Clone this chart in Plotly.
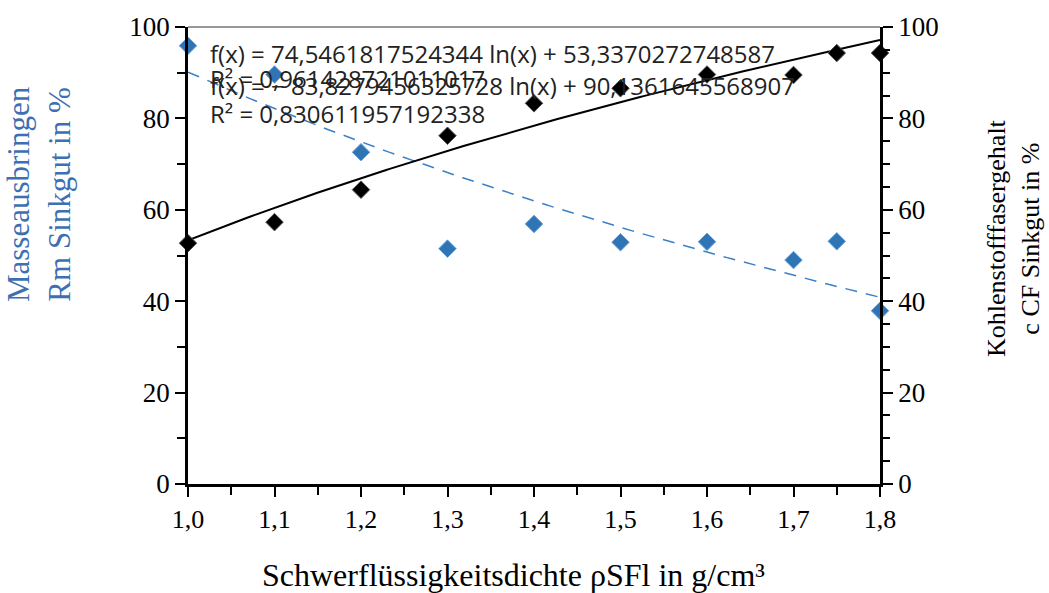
import numpy as np
import plotly.graph_objects as go

# Heavy-liquid density (g/cm³)
dichte = [1.0, 1.1, 1.2, 1.3, 1.4, 1.5, 1.6, 1.7, 1.75, 1.8]
# Mass yield of sink fraction (%)
rm_sinkgut = [95.9, 89.6, 72.6, 51.5, 56.9, 52.9, 53.0, 49.0, 53.1, 37.9]
# Carbon fibre content of sink fraction (%)
cf_sinkgut = [52.7, 57.3, 64.4, 76.2, 83.3, 86.6, 89.6, 89.5, 94.3, 94.3]

# Logarithmic trend fits f(x) = a ln(x) + b
cf_a, cf_b, cf_r2 = 74.5461817524344, 53.3370272748587, 0.961428721011017
rm_a, rm_b, rm_r2 = -83.8279456325728, 90.1361645568907, 0.830611957192338

blue = "#2F74B5"
serif = "Liberation Serif, Times New Roman, serif"

x_fit = np.linspace(min(dichte), max(dichte), 200)

fig = go.Figure()

fig.add_trace(go.Scatter(
    x=x_fit, y=rm_a * np.log(x_fit) + rm_b, mode="lines",
    line=dict(color="#3B80C6", width=1.5, dash="12px,9px"),
    yaxis="y", hoverinfo="skip", showlegend=False))
fig.add_trace(go.Scatter(
    x=x_fit, y=cf_a * np.log(x_fit) + cf_b, mode="lines",
    line=dict(color="black", width=2),
    yaxis="y2", hoverinfo="skip", showlegend=False))

fig.add_trace(go.Scatter(
    x=dichte, y=rm_sinkgut, mode="markers", name="Rm Sinkgut",
    marker=dict(symbol="diamond", size=13.5, color=blue,
                line=dict(color="#6FA5DA", width=1)),
    yaxis="y", cliponaxis=False, showlegend=False))
fig.add_trace(go.Scatter(
    x=dichte, y=cf_sinkgut, mode="markers", name="c CF Sinkgut",
    marker=dict(symbol="diamond", size=13.5, color="black",
                line=dict(color="#555555", width=1)),
    yaxis="y2", cliponaxis=False, showlegend=False))

axis_common = dict(showline=True, linecolor="black", linewidth=2.5,
                   showgrid=False, zeroline=False, ticks="outside",
                   ticklen=10, tickwidth=2, tickcolor="black")
minor_common = dict(ticks="outside", ticklen=8, tickwidth=2,
                    tickcolor="black")

fig.update_layout(
    width=1049, height=593,
    margin=dict(l=188, r=169, t=19, b=109),
    paper_bgcolor="white", plot_bgcolor="white",
    separators=",.",
    xaxis=dict(range=[1.0, 1.8], dtick=0.1, tick0=1.0, tickformat=".1f",
               minor=dict(dtick=0.05, **minor_common),
               tickfont=dict(family=serif, size=26, color="black"),
               **axis_common),
    yaxis=dict(range=[0, 100], dtick=20,
               minor=dict(dtick=10, **minor_common),
               tickfont=dict(family=serif, size=27, color="black"),
               **axis_common),
    yaxis2=dict(range=[0, 100], dtick=20, overlaying="y", side="right",
                minor=dict(dtick=5, ticks="outside", ticklen=7,
                           tickwidth=2, tickcolor="black"),
                tickfont=dict(family=serif, size=27, color="black"),
                **axis_common),
    shapes=[dict(type="line", xref="paper", yref="paper",
                 x0=0, x1=1, y0=1, y1=1,
                 line=dict(color="#333333", width=1))],
)

eq_font = dict(family="Open Sans", size=24, color="#222222")
eq_x = 0.029
fig.add_annotation(xref="paper", yref="paper", x=eq_x, y=0.942,
                   xanchor="left", yanchor="middle", showarrow=False,
                   text=f"f(x) = {cf_a:.13f} ln(x) + {cf_b:.13f}".replace(".", ","),
                   font=eq_font)
fig.add_annotation(xref="paper", yref="paper", x=eq_x, y=0.888,
                   xanchor="left", yanchor="middle", showarrow=False,
                   text=f"R² = {cf_r2:.15f}".replace(".", ","), font=eq_font)
fig.add_annotation(xref="paper", yref="paper", x=eq_x, y=0.873,
                   xanchor="left", yanchor="middle", showarrow=False,
                   text=f"f(x) = − {abs(rm_a):.13f} ln(x) + {rm_b:.13f}".replace(".", ","),
                   font=eq_font)
fig.add_annotation(xref="paper", yref="paper", x=eq_x, y=0.811,
                   xanchor="left", yanchor="middle", showarrow=False,
                   text=f"R² = {rm_r2:.15f}".replace(".", ","), font=eq_font)

fig.add_annotation(xref="paper", yref="paper", x=0.47, y=-0.2,
                   xanchor="center", yanchor="middle", showarrow=False,
                   text="Schwerflüssigkeitsdichte ρSFl in g/cm³",
                   font=dict(family=serif, size=32, color="black"))
fig.add_annotation(xref="paper", yref="paper", x=-0.215, y=0.635,
                   xanchor="center", yanchor="middle", showarrow=False,
                   textangle=-90,
                   text="Masseausbringen<br>Rm Sinkgut in %",
                   font=dict(family=serif, size=31, color="#3D6FB3"))
fig.add_annotation(xref="paper", yref="paper", x=1.192, y=0.538,
                   xanchor="center", yanchor="middle", showarrow=False,
                   textangle=-90,
                   text="Kohlenstofffasergehalt<br>c CF Sinkgut in %",
                   font=dict(family=serif, size=26, color="black"))

fig.write_html("out.html")
